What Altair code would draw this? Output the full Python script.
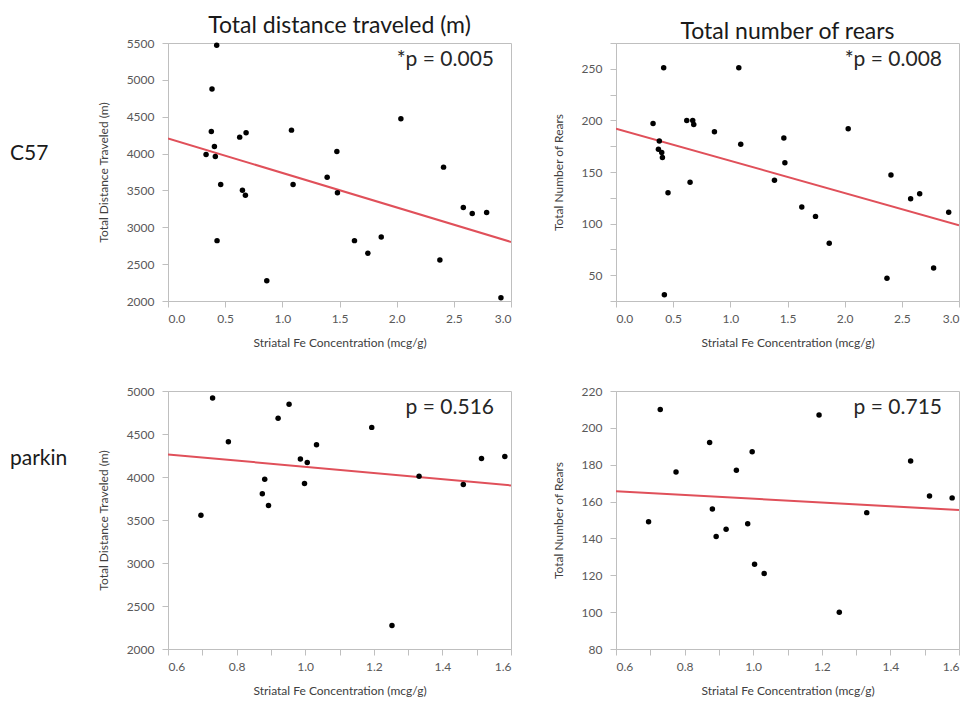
import altair as alt
import pandas as pd

FONT = "Lato"

# ---- C57: total distance traveled ----
c57_dist_fe = [0.426, 0.385, 0.379, 0.406, 0.333, 0.414, 0.461, 0.429, 0.627, 0.683,
               0.651, 0.677, 0.864, 1.080, 1.094, 1.392, 1.477, 1.482, 1.631, 1.748,
               1.865, 2.037, 2.410, 2.378, 2.583, 2.661, 2.787, 2.912]
c57_dist = [5470, 4875, 4300, 4096, 3988, 3960, 3580, 2819, 4223, 4282,
            3503, 3435, 2276, 4318, 3580, 3680, 4028, 3467, 2819, 2647,
            2869, 4472, 3816, 2557, 3268, 3186, 3200, 2045]
c57_dist_fit_x = [0.0, 3.0]
c57_dist_fit_y = [4205, 2801]

# ---- C57: total number of rears ----
c57_rears_fe = [0.417, 0.324, 0.379, 0.371, 0.400, 0.406, 0.455, 0.423, 0.619, 0.671,
                0.680, 0.648, 0.861, 1.074, 1.091, 1.386, 1.468, 1.477, 1.625, 1.745,
                1.865, 2.031, 2.405, 2.370, 2.577, 2.656, 2.778, 2.910]
c57_rears = [251, 197, 180, 172, 169, 164, 130, 31, 200, 200,
             196, 140, 189, 251, 177, 142, 183, 159, 116, 107,
             81, 192, 147, 47, 124, 129, 57, 111]
c57_rears_fit_x = [0.0, 3.0]
c57_rears_fit_y = [192, 98.4]

# ---- parkin: total distance traveled ----
parkin_dist_fe = [0.696, 0.730, 0.776, 0.882, 0.875, 0.893, 0.921, 0.953, 0.986, 1.006,
                  0.998, 1.033, 1.194, 1.253, 1.332, 1.461, 1.514, 1.582]
parkin_dist = [3556, 4918, 4410, 3975, 3805, 3669, 4682, 4845, 4208, 4169,
               3925, 4375, 4577, 2272, 4010, 3913, 4216, 4239]
parkin_dist_fit_x = [0.6, 1.6]
parkin_dist_fit_y = [4263, 3902]

# ---- parkin: total number of rears ----
parkin_rears_fe = [0.695, 0.729, 0.775, 0.873, 0.881, 0.892, 0.921, 0.951, 0.984, 0.997,
                   1.004, 1.032, 1.192, 1.251, 1.331, 1.459, 1.514, 1.580]
parkin_rears = [149, 210, 176, 192, 156, 141, 145, 177, 148, 187,
                126, 121, 207, 100, 154, 182, 163, 162]
parkin_rears_fit_x = [0.6, 1.6]
parkin_rears_fit_y = [165.6, 155.4]

col_titles = ["Total distance traveled (m)", "Total number of rears"]
row_labels = ["C57", "parkin"]
p_texts = ["*p = 0.005", "*p = 0.008", "p = 0.516", "p = 0.715"]
x_title = "Striatal Fe Concentration (mcg/g)"
y_titles = ["Total Distance Traveled (m)", "Total Number of Rears"]

W, H = 343, 258


def panel(xs, ys, fit_x, fit_y, xdom, xvals, xlabel_expr, ydom, yvals, ylabel_expr,
          ytitle, ptext, title=None, row_label=None, row_label_y=0):
    pts = pd.DataFrame({"x": xs, "y": ys})
    fit = pd.DataFrame({"x": fit_x, "y": fit_y})
    xax = alt.Axis(values=xvals, labelExpr=xlabel_expr, title=x_title)
    yax = alt.Axis(values=yvals, labelExpr=ylabel_expr, format="d", title=ytitle)
    xs_ = alt.Scale(domain=xdom, zero=False, nice=False)
    ys_ = alt.Scale(domain=ydom, zero=False, nice=False)

    line = alt.Chart(fit).mark_line(color="#e0505a", strokeWidth=2, clip=True).encode(
        x=alt.X("x:Q", scale=xs_, axis=xax),
        y=alt.Y("y:Q", scale=ys_, axis=yax),
    )
    dots = alt.Chart(pts).mark_circle(size=30, color="black", opacity=1).encode(
        x=alt.X("x:Q", scale=xs_, axis=xax),
        y=alt.Y("y:Q", scale=ys_, axis=yax),
    )
    ptxt = alt.Chart(pd.DataFrame({"p": [ptext]})).mark_text(
        align="right", baseline="alphabetic", fontSize=21, font=FONT, color="#262626"
    ).encode(x=alt.value(W - 17), y=alt.value(23), text="p:N")
    layers = [line, dots, ptxt]
    if row_label is not None:
        rl = alt.Chart(pd.DataFrame({"r": [row_label]})).mark_text(
            align="left", baseline="middle", fontSize=21, font=FONT, color="#1a1a1a"
        ).encode(x=alt.value(-158), y=alt.value(row_label_y), text="r:N")
        layers.append(rl)
    ch = alt.layer(*layers).properties(width=W, height=H)
    if title is not None:
        ch = ch.properties(title=alt.TitleParams(
            title, frame="group", anchor="middle", fontSize=23, font=FONT,
            fontWeight="normal", color="#1a1a1a", offset=-1))
    return ch


top_x_vals = [0.0, 0.5, 1.0, 1.5, 2.0, 2.5, 3.0]
top_x_expr = "format(datum.value, '.1f')"
bot_x_vals = [round(0.6 + 0.1 * i, 1) for i in range(11)]
bot_x_expr = "abs(round(datum.value * 10)) % 2 == 0 ? format(datum.value, '.1f') : ''"

p1 = panel(c57_dist_fe, c57_dist, c57_dist_fit_x, c57_dist_fit_y,
           [0, 3], top_x_vals, top_x_expr,
           [2000, 5500], list(range(2000, 5501, 500)), "datum.label",
           y_titles[0], p_texts[0], title=col_titles[0], row_label=row_labels[0],
           row_label_y=111)
p2 = panel(c57_rears_fe, c57_rears, c57_rears_fit_x, c57_rears_fit_y,
           [0, 3], top_x_vals, top_x_expr,
           [25, 275], list(range(25, 276, 25)), "datum.value % 50 == 0 ? datum.label : ''",
           y_titles[1], p_texts[1], title=col_titles[1])
p3 = panel(parkin_dist_fe, parkin_dist, parkin_dist_fit_x, parkin_dist_fit_y,
           [0.6, 1.6], bot_x_vals, bot_x_expr,
           [2000, 5000], list(range(2000, 5001, 500)), "datum.label",
           y_titles[0], p_texts[2], row_label=row_labels[1], row_label_y=68)
p4 = panel(parkin_rears_fe, parkin_rears, parkin_rears_fit_x, parkin_rears_fit_y,
           [0.6, 1.6], bot_x_vals, bot_x_expr,
           [80, 220], list(range(80, 221, 20)), "datum.label",
           y_titles[1], p_texts[3])

chart = alt.concat(
    p1, p2, p3, p4, columns=2, bounds="flush",
    spacing=alt.RowColnumber(row=90, column=105),
).properties(
    padding={"left": 1, "top": 6, "right": 2, "bottom": 2}
).configure_view(
    stroke="#bfbfbf", strokeWidth=1
).configure_axis(
    grid=False, domainColor="#bfbfbf", tickColor="#bfbfbf", tickSize=6,
    labelFont=FONT, labelFontSize=12, labelColor="#595959", labelPadding=6,
    titleFont=FONT, titleFontSize=12, titleFontWeight="normal", titleColor="#404040",
).configure_axisY(
    labelPadding=8, titlePadding=16
).configure_axisX(
    titlePadding=13
)

chart.save("out.html", embed_options={"renderer": "svg", "actions": False})
